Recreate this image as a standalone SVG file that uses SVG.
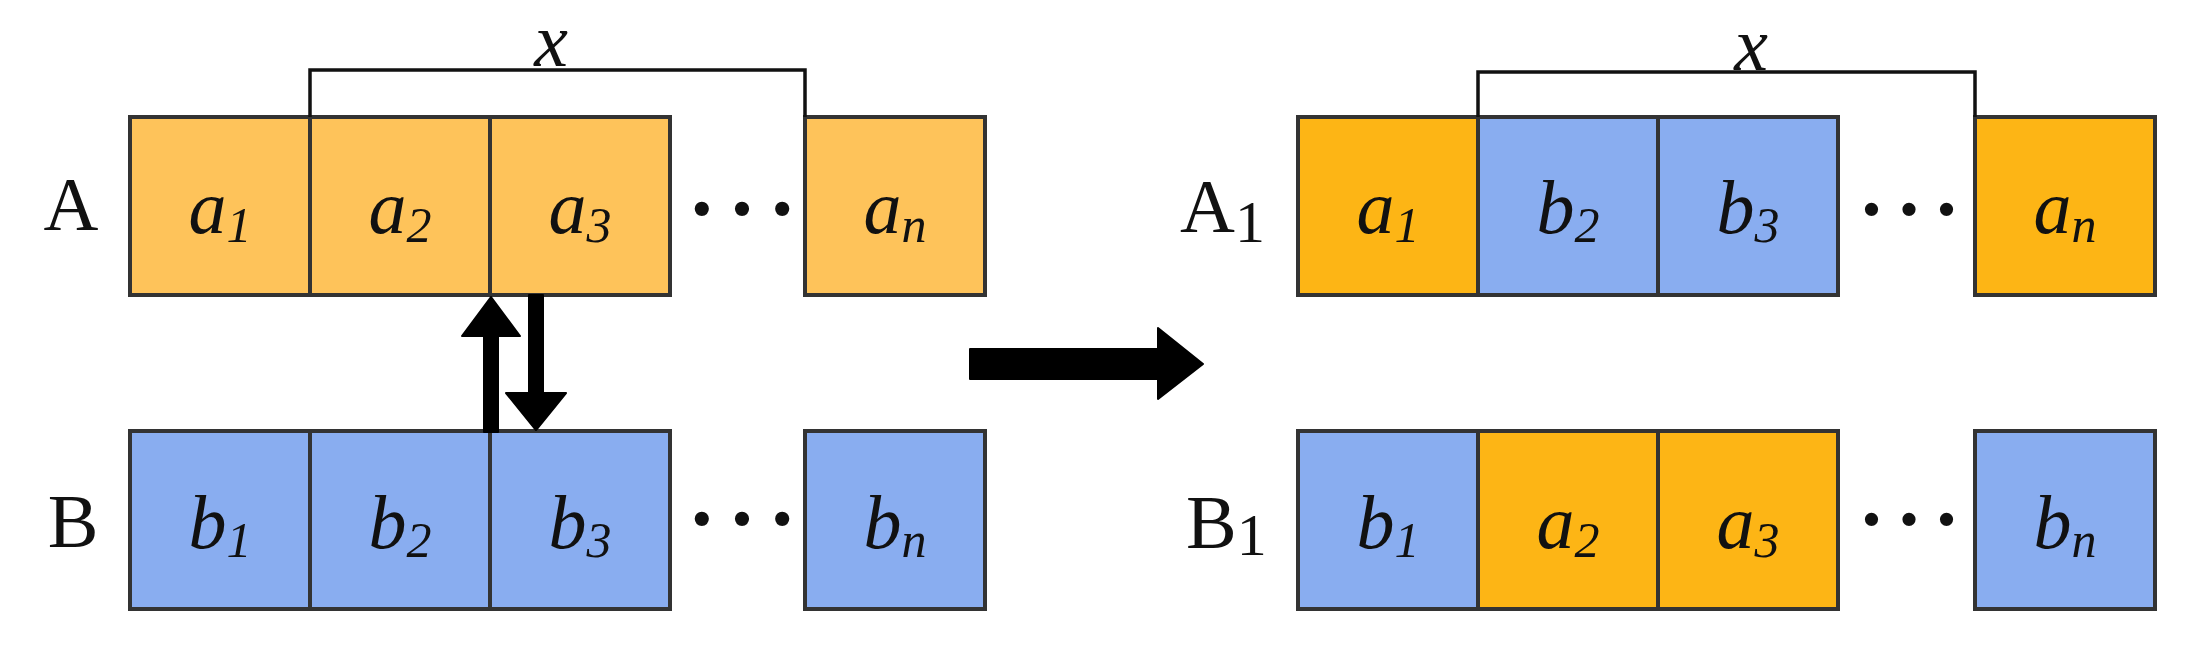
<svg xmlns="http://www.w3.org/2000/svg" width="2203" height="646" viewBox="0 0 2203 646">
<style>
.cell{stroke:#333;stroke-width:4}
.oa{fill:#FEC35A}
.ob{fill:#FDB515}
.bl{fill:#89ADF0}
.lab{font-family:"Liberation Serif",serif;font-style:italic;font-size:76px;fill:#111;text-anchor:middle}
.sub{font-size:50px}
.row{font-family:"Liberation Serif",serif;font-size:76px;fill:#111}
.dots{font-family:"Liberation Serif",serif;fill:#111;text-anchor:middle}
.br{fill:none;stroke:#111;stroke-width:3.5}
</style>
<rect width="2203" height="646" fill="#fff"/>

<g id="label-A"><text class="row" x="71" y="230" text-anchor="middle">A</text></g>
<g id="label-B"><text class="row" x="73" y="547" text-anchor="middle">B</text></g>
<g id="label-A1"><text class="row" x="1180" y="232">A<tspan font-size="60" font-style="normal" dy="10">1</tspan></text></g>
<g id="label-B1"><text class="row" x="1186" y="548">B<tspan font-size="60" dy="7">1</tspan></text></g>

<!-- left A row -->
<g id="A-a1"><rect class="cell oa" x="130" y="117" width="180" height="178"/><text class="lab" x="220" y="233">a<tspan class="sub" dy="9">1</tspan></text></g>
<g id="A-a2"><rect class="cell oa" x="310" y="117" width="180" height="178"/><text class="lab" x="400" y="233">a<tspan class="sub" dy="9">2</tspan></text></g>
<g id="A-a3"><rect class="cell oa" x="490" y="117" width="180" height="178"/><text class="lab" x="580" y="233">a<tspan class="sub" dy="9">3</tspan></text></g>
<g id="A-dots"><text class="dots" x="742" y="214" font-size="120">…</text></g>
<g id="A-an"><rect class="cell oa" x="805" y="117" width="180" height="178"/><text class="lab" x="895" y="233">a<tspan class="sub" dy="9">n</tspan></text></g>
<g id="A-bracket"><polyline class="br" points="310,117 310,70 805,70 805,117"/><text class="lab" x="551" y="66">x</text></g>

<!-- left B row -->
<g id="B-b1"><rect class="cell bl" x="130" y="431" width="180" height="178"/><text class="lab" x="220" y="548">b<tspan class="sub" dy="9">1</tspan></text></g>
<g id="B-b2"><rect class="cell bl" x="310" y="431" width="180" height="178"/><text class="lab" x="400" y="548">b<tspan class="sub" dy="9">2</tspan></text></g>
<g id="B-b3"><rect class="cell bl" x="490" y="431" width="180" height="178"/><text class="lab" x="580" y="548">b<tspan class="sub" dy="9">3</tspan></text></g>
<g id="B-dots"><text class="dots" x="742" y="524" font-size="120">…</text></g>
<g id="B-bn"><rect class="cell bl" x="805" y="431" width="180" height="178"/><text class="lab" x="895" y="548">b<tspan class="sub" dy="9">n</tspan></text></g>

<!-- right A1 row -->
<g id="A1-a1"><rect class="cell ob" x="1298" y="117" width="180" height="178"/><text class="lab" x="1388" y="233">a<tspan class="sub" dy="9">1</tspan></text></g>
<g id="A1-b2"><rect class="cell bl" x="1478" y="117" width="180" height="178"/><text class="lab" x="1568" y="233">b<tspan class="sub" dy="9">2</tspan></text></g>
<g id="A1-b3"><rect class="cell bl" x="1658" y="117" width="180" height="178"/><text class="lab" x="1748" y="233">b<tspan class="sub" dy="9">3</tspan></text></g>
<g id="A1-dots"><text class="dots" x="1909" y="214" font-size="112">…</text></g>
<g id="A1-an"><rect class="cell ob" x="1975" y="117" width="180" height="178"/><text class="lab" x="2065" y="233">a<tspan class="sub" dy="9">n</tspan></text></g>
<g id="A1-bracket"><polyline class="br" points="1478,117 1478,72 1975,72 1975,117"/><text class="lab" x="1751" y="70">x</text></g>

<!-- right B1 row -->
<g id="B1-b1"><rect class="cell bl" x="1298" y="431" width="180" height="178"/><text class="lab" x="1388" y="548">b<tspan class="sub" dy="9">1</tspan></text></g>
<g id="B1-a2"><rect class="cell ob" x="1478" y="431" width="180" height="178"/><text class="lab" x="1568" y="548">a<tspan class="sub" dy="9">2</tspan></text></g>
<g id="B1-a3"><rect class="cell ob" x="1658" y="431" width="180" height="178"/><text class="lab" x="1748" y="548">a<tspan class="sub" dy="9">3</tspan></text></g>
<g id="B1-dots"><text class="dots" x="1909" y="524" font-size="112">…</text></g>
<g id="B1-bn"><rect class="cell bl" x="1975" y="431" width="180" height="178"/><text class="lab" x="2065" y="548">b<tspan class="sub" dy="9">n</tspan></text></g>

<g id="connectors" fill="#000" stroke="#000" stroke-width="2" stroke-linejoin="round">
<path d="M484,432 L484,336 L462,336 L491,297 L520,336 L498,336 L498,432 Z"/>
<path d="M529,295 L529,393 L506,393 L536,430 L566,393 L543,393 L543,295 Z"/>
<path d="M970,349 L1158,349 L1158,328 L1203,364 L1158,399 L1158,379 L970,379 Z"/>
</g>
</svg>
